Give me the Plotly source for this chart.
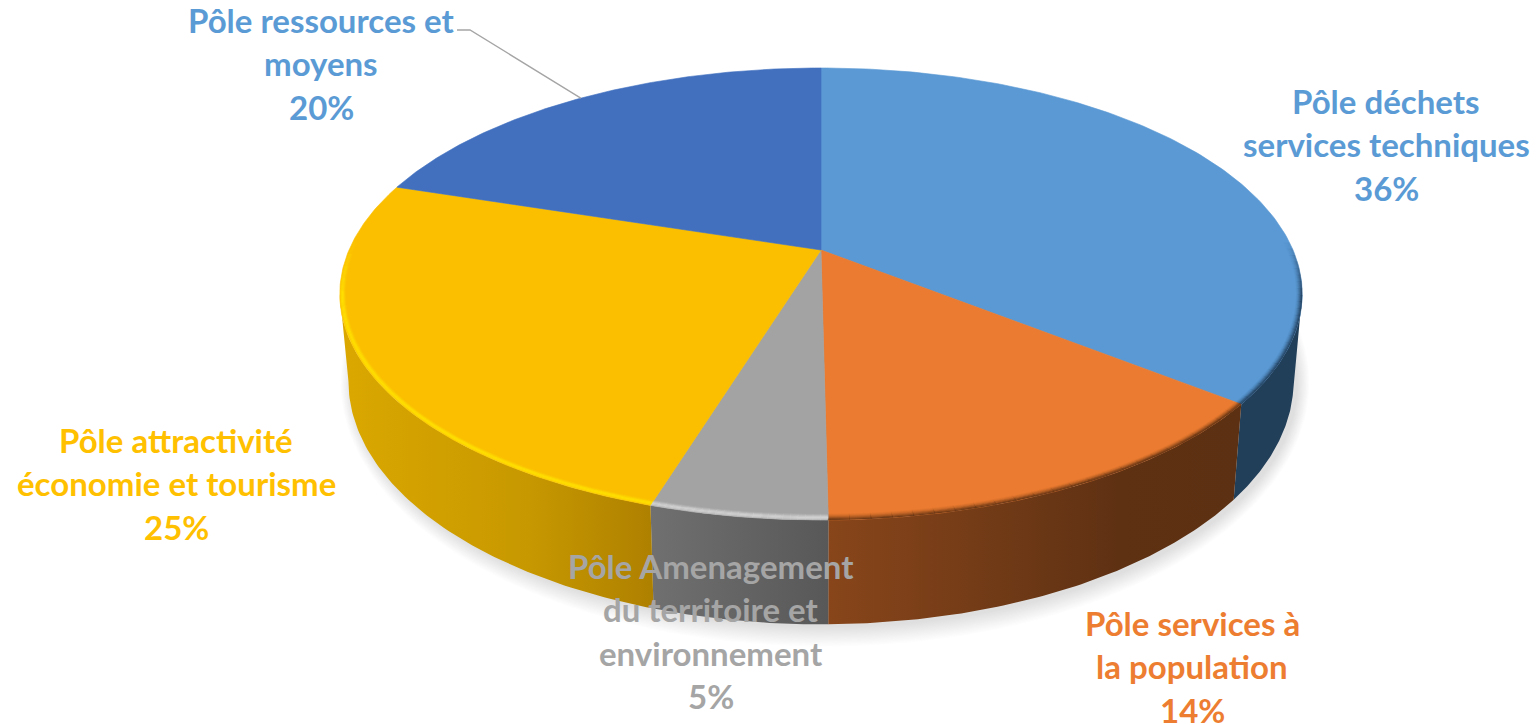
import numpy as np
import plotly.graph_objects as go

# --- data ---
names = ["Pôle déchets services techniques", "Pôle services à la population",
         "Pôle Amenagement du territoire et environnement",
         "Pôle attractivité économie et tourisme", "Pôle ressources et moyens"]
values = [35.7, 14.1, 4.95, 25.2, 20.05]
top_colors = ["#5A99D4", "#EB7B30", "#A3A3A3", "#FBBF00", "#4270BF"]
text_colors = ["#5B9BD5", "#ED7D31", "#A5A5A5", "#FFC000", "#5B9BD5"]
side_scales = [
    [[0, "#223F59"], [1, "#223F59"]],
    [[0, "#88451A"], [0.35, "#743C17"], [0.7, "#5F3113"], [1, "#5C3012"]],
    [[0, "#707070"], [1, "#585858"]],
    [[0, "#DBA800"], [0.6, "#C79800"], [1, "#AE8000"]],
    [[0, "#2A4A80"], [1, "#2A4A80"]],
]
rim_colors = ["#1F3A55", "#5C3012", "#D2D2D2", "#FFE000", "#2A4A80"]
label_lines = [["Pôle déchets", "services techniques"], ["Pôle services à", "la population"],
               ["Pôle Amenagement", "du territoire et", "environnement"],
               ["Pôle attractivité", "économie et tourisme"], ["Pôle ressources et", "moyens"]]
label_cx = [1386, 1192, 711, 176, 321]
label_y0 = [101, 623, 566, 440, 20]
LINE = 43.4

# --- projection of the tilted disc to the page ---
CX, CY, A, B, C = 821.0, 250.0, 472.0, -168.8, 0.1947
DEPTH, SHRINK = 84.0, 0.982


def project(deg, r=1.0, lower=False):
    t = np.radians(deg)
    x, y = r * np.sin(t), r * np.cos(t)
    den = 1 + C * y
    px = CX + A * x / den
    py = (CY + B * y) / den
    if lower:
        px = CX + SHRINK * (px - CX)
        py = py + DEPTH / den
    return px, py


def inset(deg, pixels):
    """Radius (as a fraction) that sits a given number of pixels inside the rim."""
    x1, y1 = project(deg, 1.0)
    x2, y2 = project(deg, 0.9)
    local = np.hypot(x1 - x2, y1 - y2) / 0.1
    return 1 - pixels / local


total = sum(values)
edges = np.cumsum([0] + values) / total * 360
SIL_R, SIL_L = 101.2, 258.8

fig = go.Figure()


def add(x, y, **kw):
    fig.add_trace(go.Scatter(x=x, y=y, mode=kw.pop("mode", "lines"), hoverinfo="skip",
                             showlegend=False, **kw))


# soft shadow
arc = np.linspace(60, 300, 200)
for i in range(16):
    g = 1 - i / 15
    px, py = project(arc, lower=True)
    sx = CX + 4 + (px - CX) * (1 + g * 0.025)
    sy = 400 + (py - 400) * (1 + g * 0.085) + 3
    add(sx, sy, fill="toself", fillcolor="rgba(130,130,130,0.02)", line=dict(width=0))

# side walls
for i in range(5):
    a0, a1 = max(edges[i], SIL_R), min(edges[i + 1], SIL_L)
    if a1 <= a0:
        continue
    t = np.linspace(a0, a1, 80)
    xt, yt = project(t)
    xb, yb = project(t[::-1], lower=True)
    add(np.r_[xt, xb, xt[0]], np.r_[yt, yb, yt[0]], fill="toself",
        line=dict(width=0),
        fillgradient=dict(type="horizontal", colorscale=side_scales[i]))

# top faces
for i in range(5):
    t = np.linspace(edges[i], edges[i + 1], 160)
    xt, yt = project(t)
    add(np.r_[CX, xt, CX], np.r_[CY, yt, CY], fill="toself", fillcolor=top_colors[i],
        line=dict(width=0.6, color=top_colors[i]))

# bevel along the visible rim, drawn as thin fading strokes
BEV_R, BEV_L = 88, 272
for i in range(5):
    a0, a1 = max(edges[i], BEV_R), min(edges[i + 1], BEV_L)
    if a1 <= a0:
        continue
    chunks = np.linspace(a0, a1, 25)
    for c0, c1 in zip(chunks[:-1], chunks[1:]):
        t = np.linspace(c0, c1 + 0.05, 6)
        mid_t = (c0 + c1) / 2
        fade = min(1.0, max(0.0, (mid_t - BEV_R) / 14)) * min(1.0, max(0.0, (BEV_L - mid_t) / 14))
        if fade <= 0:
            continue
        if i in (2, 3):
            steps = [(0.5, 0.35), (1.5, 0.8), (2.5, 0.95), (3.5, 0.75), (4.5, 0.4), (5.5, 0.15)]
        else:
            steps = [(0.5, 0.8), (1.5, 0.6), (2.5, 0.4), (3.5, 0.25), (4.5, 0.12), (5.5, 0.05)]
        for px_in, al in steps:
            x, y = project(t, inset(t, px_in))
            add(x, y, line=dict(color=rim_colors[i], width=1.3), opacity=al * fade)

# leader line for the last slice
mid = (edges[4] + edges[5]) / 2
ex, ey = project(mid)
add([457, 470, float(ex)], [30, 30, float(ey)], line=dict(color="#A5A5A5", width=1.3))

# labels
font_family = "Lato"
for i in range(5):
    lines = label_lines[i] + [f"{round(values[i])}%"]
    for j, s in enumerate(lines):
        fig.add_annotation(x=label_cx[i], y=label_y0[i] + j * LINE, text=s, showarrow=False,
                           xanchor="center", yanchor="middle",
                           font=dict(family=font_family, size=33, color=text_colors[i], weight="bold"))

fig.update_layout(width=1539, height=725, autosize=False,
                  margin=dict(l=0, r=0, t=0, b=0), paper_bgcolor="white", plot_bgcolor="white",
                  xaxis=dict(range=[0, 1539], visible=False, fixedrange=True),
                  yaxis=dict(range=[725, 0], visible=False, fixedrange=True))
fig.write_html("out.html", config={"displayModeBar": False}, include_plotlyjs=True,
               post_script="document.body.style.margin='0';document.body.style.overflow='hidden';")
